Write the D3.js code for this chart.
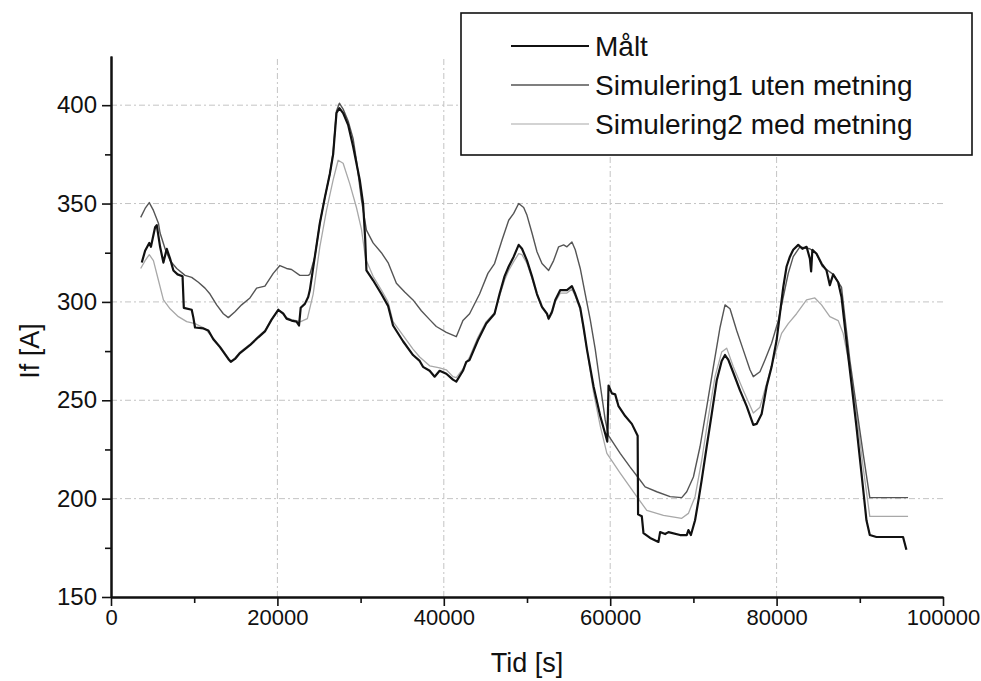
<!DOCTYPE html>
<html>
<head>
<meta charset="utf-8">
<script src="https://cdn.jsdelivr.net/npm/d3@7"></script>
<style>
  body { margin: 0; background: #fff; }
  text { font-family: "Liberation Sans", Arial, sans-serif; fill: #111; }
</style>
</head>
<body>
<svg width="981" height="681"></svg>
<script>
// Målt
var maltT = [3700,4100,4600,4800,5300,5500,5900,6300,6700,7100,7500,8000,8600,8750,9700,9900,10100,11100,11700,12300,13100,14100,14400,14900,15500,16700,17700,18500,19300,20100,20700,21100,21700,22300,22600,22800,23300,23700,23900,24500,25100,25700,26300,26700,27100,27450,27900,28500,29100,29900,30300,30550,30700,31500,32500,33300,33900,35100,36300,37100,37500,38300,38900,39500,40300,41100,41500,42300,42700,43100,44100,45100,46100,46700,47300,47800,48400,49000,49400,50000,50600,51200,51800,52400,52600,53000,53400,54000,54800,55400,55800,56400,56800,57200,58000,58800,59400,59650,59800,60200,60600,61000,61800,62600,63300,63350,63800,64000,64800,65800,66000,66600,67000,68400,69200,69400,69700,70200,70600,71000,71600,72200,72800,73400,73800,74200,74800,75600,76400,77200,77600,78200,78800,79400,80000,80400,80800,81200,81600,82000,82600,83100,83600,84000,84150,84300,84800,85400,86000,86400,86800,87400,87800,88400,89000,89600,90200,90800,91200,92000,95200,95600];
var maltV = [320,326,330,328,338,339,328,320,327,322,316,314,313,297,296,292,287,286.5,285.5,281,277,271,269.5,271,274,278,282,285,291,296,294,291.5,290.5,290,288,297,299,302.5,306,323,340,353,365,375,396,398.5,396,390,379,362,350,332,316,311,304,298,288,280,273,270,267,265,262,265,263.5,260.5,259.5,265,269.5,270.5,280.5,289,294,304,313,318,323,329,327,321,313,304,297.5,294,291.5,295,301,306,306,308,304,297,287,276,257,242,233,229,257.5,253.5,253,247,242,238,232,192,191,182.5,180,178,183,182,183,181.5,181.5,184,181.5,189,199,209.5,226.5,243,260,270,273,270.5,264,255,247,237.5,238,243,257,267,280.5,294,307.5,318,323,326.5,329,327,328,322,315.5,326.5,324.5,319.5,316,308.5,314,310,302.5,280,258.5,236.5,213,189,181.5,180.5,180.5,174];

// Simulering1 uten metning
var sim1T = [3570,4100,4600,5100,5700,5900,6500,7100,7900,8900,9700,10500,11300,11900,12700,13500,14100,14900,15700,16700,17500,18500,19500,20300,21100,21700,22700,23700,23900,24500,25100,25700,26300,26700,27100,27450,27900,28500,29100,29500,30100,30700,31500,32500,33300,34300,35300,36300,37300,38300,39100,40300,41500,42300,43100,44300,45300,46100,47000,47800,48400,49000,49600,50000,50600,51200,51800,52600,53200,53800,54400,54800,55400,55800,56400,57000,57600,58200,58800,59400,59800,61200,62400,63400,64200,65600,67200,68600,69200,70000,70800,71600,72400,73200,73800,74400,75200,76000,76800,77200,78000,78600,79400,80200,80800,81400,82000,82800,84000,84800,85500,86800,87800,88200,88800,89600,90400,91200,95800];
var sim1V = [343,347.5,350.5,346.5,340,335,327,321,317,313.5,312.5,310,307,304,298.5,294,292,295,298.5,302,307,308,314.5,318.5,317,316.5,313.5,313.5,314,323,340,353,365,376,397,401,398,392,383,372,352,336.5,330,325,320,309.5,305,301,295.5,291,287.5,284.5,282.3,290.5,294,304,314.5,319.5,331.5,341.5,345,350,348,344,335,325.5,319.5,316,321,328,329,328,330.5,326.5,317,304,291,276,258,240,232,223,216,210.5,206,203.5,201,200.5,203.5,211,226.5,246.5,267,287,298.5,296.5,285.5,275.5,265.5,262,264.5,270.5,279,290.5,302.5,314.5,323,328,327,324.5,318,314,307.5,292.5,270.5,246.5,223,200.5,200.5];

// Simulering2 med metning
var sim2T = [3570,4100,4600,5100,5700,6300,7100,8100,9100,10100,11300,12300,13100,14100,14400,14900,15500,16700,17700,18500,19300,20100,20700,21100,21700,22300,22800,23600,24300,25100,25900,26700,27300,27900,28700,29500,30100,30600,31500,32500,33300,33900,35100,36300,37100,38300,39500,40300,41100,41500,42300,43100,44100,45100,46100,46700,47300,47800,48400,49000,49400,50000,50600,51200,51800,52400,52600,53000,53400,54000,54800,55400,55800,56400,57200,58000,58800,59600,61200,63200,64400,66400,68600,69400,70200,71000,71800,72600,73400,74000,74800,76000,77200,78000,78800,79600,80600,81400,82400,83600,84600,85400,86400,87400,88000,88800,89600,90400,91200,95800];
var sim2V = [317,321,324,321,311,301,296.5,292.5,290,289,286.5,281.5,277.5,271.5,270,271.5,274.5,278.5,282.5,285.5,291,296,294.5,292,291,290.5,290,291.5,304,328,346.5,362,372,370.5,360,348,337,322,313,306,300,290,283,276,272,267.5,266.5,265.5,262,261.5,266,272,282,290,294.5,303,311,316,320.5,324.5,324,319.5,312,303.5,297,293.5,291,294,300,304.5,304.5,306.5,303,296,276,254,237,223,213,201,194,191.5,190,192.5,201,219.5,241.5,262,274.5,276.5,267,255,243.5,246.5,258.5,270.5,284,289,294,301,302,298.5,292.5,290.5,284,267,243.5,216,191,191];

var xTicks = [0, 20000, 40000, 60000, 80000, 100000];
var yTicks = [150, 200, 250, 300, 350, 400];
var legendNames = ["Målt", "Simulering1 uten metning", "Simulering2 med metning"];

var svg = d3.select("svg");

var x = d3.scaleLinear().domain([0, 100000]).range([111, 943]);
var y = d3.scaleLinear().domain([150, 425]).range([597, 56]);

// grid
var grid = svg.append("g").attr("stroke", "#c4c4c4").attr("stroke-width", 1).attr("stroke-dasharray", "6,3,2,3");
grid.selectAll(".gy").data(yTicks.slice(1)).enter().append("line")
    .attr("x1", x(0)).attr("x2", x(100000))
    .attr("y1", d => y(d)).attr("y2", d => y(d));
grid.selectAll(".gx").data(xTicks.slice(1, -1)).enter().append("line")
    .attr("x1", d => x(d)).attr("x2", d => x(d))
    .attr("y1", y(150)).attr("y2", y(425));

// series
var series = [
  {t: sim2T, v: sim2V, color: "#a8a8a8", w: 1.3},
  {t: sim1T, v: sim1V, color: "#555", w: 1.4},
  {t: maltT, v: maltV, color: "#111", w: 2.2}
];
var line = d3.line().x(d => x(d[0])).y(d => y(d[1]));
series.forEach(function(s) {
  svg.append("path")
    .attr("d", line(d3.zip(s.t, s.v)))
    .attr("fill", "none")
    .attr("stroke", s.color)
    .attr("stroke-width", s.w)
    .attr("stroke-linejoin", "round");
});

// axes
var yAxis = svg.append("g").attr("transform", "translate(" + x(0) + ",0)")
    .call(d3.axisLeft(y).tickValues(yTicks).tickSize(9).tickSizeOuter(0).tickPadding(5));
svg.append("g").attr("transform", "translate(" + x(0) + ",0)")
    .call(d3.axisLeft(y).tickValues(d3.range(175, 425, 50)).tickSize(6).tickSizeOuter(0).tickFormat(""));
var xAxis = svg.append("g").attr("transform", "translate(0," + y(150) + ")")
    .call(d3.axisBottom(x).tickValues(xTicks).tickSize(9).tickSizeOuter(0).tickPadding(3).tickFormat(d3.format("d")));
svg.append("g").attr("transform", "translate(0," + y(150) + ")")
    .call(d3.axisBottom(x).tickValues(d3.range(10000, 100000, 20000)).tickSize(6).tickSizeOuter(0).tickFormat(""));

svg.selectAll(".domain").attr("stroke", "#111").attr("stroke-width", 2);
svg.selectAll(".tick line").attr("stroke", "#111").attr("stroke-width", 1.6);
yAxis.selectAll("text").style("font-size", "24px").attr("fill", "#222");
xAxis.selectAll("text").style("font-size", "22px").attr("fill", "#222");

// axis titles
svg.append("text")
    .attr("x", (x(0) + x(100000)) / 2)
    .attr("y", 672)
    .attr("text-anchor", "middle")
    .style("font-size", "27px")
    .text("Tid [s]");
svg.append("text")
    .attr("transform", "translate(39," + y(275) + ") rotate(-90)")
    .attr("text-anchor", "middle")
    .style("font-size", "27px")
    .text("If [A]");

// legend
var lg = svg.append("g");
lg.append("rect")
    .attr("x", 461).attr("y", 13).attr("width", 511).attr("height", 142)
    .attr("fill", "#fff").attr("stroke", "#111").attr("stroke-width", 1.6);
var legendColors = ["#111", "#555", "#a8a8a8"];
var legendWidths = [1.8, 1.3, 1.2];
legendNames.forEach(function(n, i) {
  var cy = 46 + i * 39;
  lg.append("line").attr("x1", 511).attr("x2", 589).attr("y1", cy).attr("y2", cy)
    .attr("stroke", legendColors[i]).attr("stroke-width", legendWidths[i]);
  lg.append("text").attr("x", 595).attr("y", cy + 10)
    .style("font-size", "28px").text(n);
});
</script>
</body>
</html>
